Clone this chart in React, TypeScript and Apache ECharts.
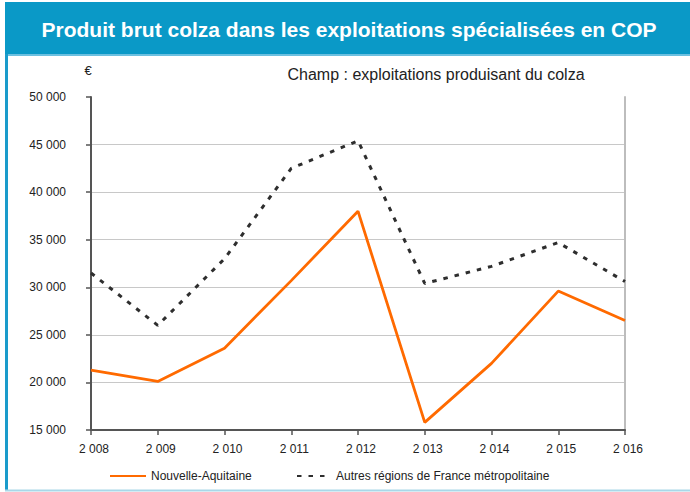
import React, { useEffect, useRef } from "react";
import * as echarts from "echarts";

const years = ["2 008", "2 009", "2 010", "2 011", "2 012", "2 013", "2 014", "2 015", "2 016"];
const nouvelleAquitaine = [21300, 20100, 23600, 30700, 38000, 15800, 22000, 29600, 26500];
const autresRegions = [31500, 26000, 33000, 42500, 45400, 30400, 32200, 34700, 30600];
const seriesNames = ["Nouvelle-Aquitaine", "Autres régions de France métropolitaine"];
const titleText = "Produit brut colza dans les exploitations spécialisées en COP";
const subtitleText = "Champ : exploitations produisant du colza";
const unitText = "€";

const fmt = (v: number) => {
  const s = String(Math.round(v));
  return s.replace(/\B(?=(\d{3})+(?!\d))/g, " ");
};

export default function App() {
  const ref = useRef<HTMLDivElement>(null);
  useEffect(() => {
    if (!ref.current) return;
    const chart = echarts.init(ref.current, undefined, { renderer: "svg" });
    const font = "'Liberation Sans', Arial, sans-serif";
    chart.setOption({
      animation: false,
      backgroundColor: "#ffffff",
      textStyle: { fontFamily: font },
      graphic: [
        { type: "rect", shape: { x: 5, y: 2, width: 685, height: 52 }, style: { fill: "#0a99c7" } },
        { type: "rect", shape: { x: 5, y: 54, width: 685, height: 2 }, style: { fill: "#6cc0e0" } },
        { type: "rect", shape: { x: 5, y: 54, width: 3, height: 437 }, style: { fill: "#1a9bcb" } },
        { type: "rect", shape: { x: 5, y: 489.5, width: 685, height: 2 }, style: { fill: "#a9d7e8" } },
        {
          type: "text", x: 349, y: 29,
          style: { text: titleText, fill: "#ffffff", font: `bold 21px ${font}`, align: "center", verticalAlign: "middle" },
        },
        {
          type: "text", x: 436, y: 74,
          style: { text: subtitleText, fill: "#222222", font: `16px ${font}`, align: "center", verticalAlign: "middle" },
        },
        {
          type: "text", x: 88, y: 70,
          style: { text: unitText, fill: "#222222", font: `13px ${font}`, align: "center", verticalAlign: "middle" },
        },
      ],
      grid: { left: 91, right: 65, top: 97, bottom: 62, containLabel: false },
      legend: [
        {
          data: [seriesNames[0]], left: 109, top: 470, itemWidth: 36, itemHeight: 12, padding: 0,
          itemStyle: { opacity: 0 },
          textStyle: { fontSize: 12, color: "#222", fontFamily: font },
        },
        {
          data: [seriesNames[1]], left: 296, top: 470, itemWidth: 34, itemHeight: 12, padding: 0,
          itemStyle: { opacity: 0 },
          textStyle: { fontSize: 12, color: "#222", fontFamily: font },
        },
      ],
      xAxis: {
        type: "category",
        data: years,
        boundaryGap: false,
        axisLine: { lineStyle: { color: "#555555", width: 2 } },
        axisTick: { show: true, length: 5, lineStyle: { color: "#555555", width: 1.5 } },
        axisLabel: { color: "#222", fontSize: 12, margin: 13, padding: [0, 0, 0, 6], fontFamily: font },
        splitLine: { show: false },
      },
      yAxis: [
        {
          type: "value",
          min: 15000,
          max: 50000,
          interval: 5000,
          axisLine: { show: true, lineStyle: { color: "#555555", width: 2 } },
          axisTick: { show: true, length: 5, lineStyle: { color: "#555555", width: 1.5 } },
          axisLabel: { color: "#222", fontSize: 12, margin: 25, formatter: fmt, fontFamily: font },
          splitLine: { show: true, showMinLine: false, showMaxLine: false, lineStyle: { color: "#c8c8c8", width: 1.2 } },
        },
        {
          type: "value",
          position: "right",
          min: 15000,
          max: 50000,
          interval: 5000,
          axisLine: { show: true, lineStyle: { color: "#bdbdbd", width: 2 } },
          axisTick: { show: false },
          axisLabel: { show: false },
          splitLine: { show: false },
        },
      ],
      series: [
        {
          name: seriesNames[0],
          type: "line",
          data: nouvelleAquitaine,
          symbol: "none",
          color: "#ff6a00",
          lineStyle: { color: "#ff6a00", width: 2.8 },
        },
        {
          name: seriesNames[1],
          type: "line",
          data: autresRegions,
          symbol: "none",
          color: "#2e2e2e",
          lineStyle: { color: "#2e2e2e", width: 3, type: [4.5, 7] },
        },
      ],
    });
    return () => chart.dispose();
  }, []);
  return (
    <div
      ref={ref}
      style={{ position: "absolute", left: 0, top: 0, width: 690, height: 492 }}
    />
  );
}
